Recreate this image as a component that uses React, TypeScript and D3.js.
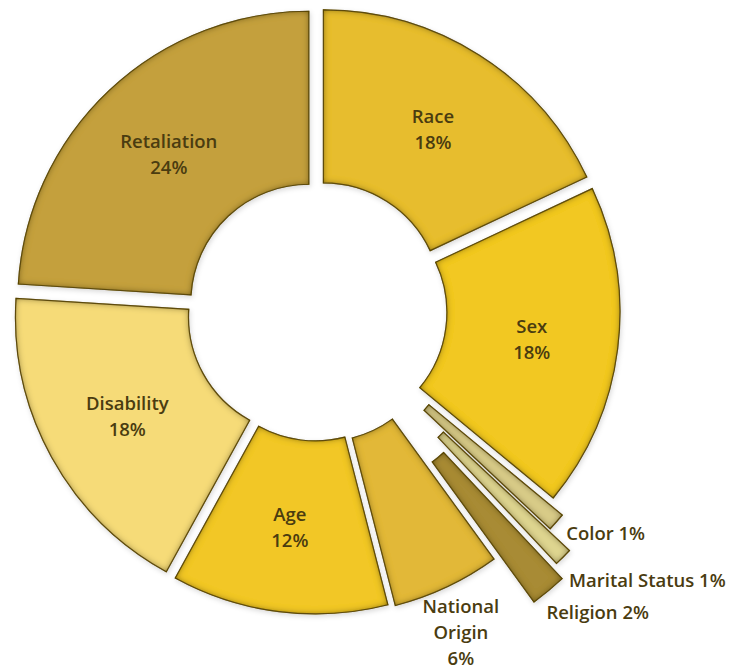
import React from "react";
import * as d3 from "d3";

const categories = ["Race", "Sex", "Color", "Marital Status", "Religion", "National Origin", "Age", "Disability", "Retaliation"];
const values = [18, 18, 1, 1, 2, 6, 12, 18, 24];
const labelLines = [["Race", "18%"], ["Sex", "18%"], ["Color 1%"], ["Marital Status 1%"], ["Religion 2%"], ["National", "Origin", "6%"], ["Age", "12%"], ["Disability", "18%"], ["Retaliation", "24%"]];

// style
const fills = ["#E7BD2E", "#F2C822", "#D9CC88", "#DFD690", "#A88B35", "#E2B838", "#F2C727", "#F6DB78", "#C4A03C"];
const explode = [12, 12, 28, 57, 72, 14, 12, 12, 12];
const outsideLabel = [false, false, true, true, true, true, false, false, false];
// offsets relative to slice outer end for outside labels: [dx, dy, anchor]
const outsideOffset: Record<number, [number, number, string]> = {
  2: [10, 10, "start"],
  3: [6, 22, "start"],
  4: [-2, 20, "start"],
  5: [14, 18, "middle"],
};

const W = 749, H = 668;
const cx = 317, cy = 311;
const rIn = 118, rOut = 291;

export default function App() {
  const pie = d3.pie<number>().sort(null).value((d) => d)(values);
  const arc = d3.arc<d3.PieArcDatum<number>>().innerRadius(rIn).outerRadius(rOut);
  const font = "'Open Sans', Lato, sans-serif";
  const textColor = "#4A3C10";
  const fs = 18.5;
  return (
    <svg width={W} height={H} style={{ position: "absolute", left: 0, top: 0, background: "#fff" }}>
      <defs>
        <filter id="bevel" x="-10%" y="-10%" width="120%" height="120%">
          <feComponentTransfer in="SourceAlpha" result="inv">
            <feFuncA type="table" tableValues="1 0" />
          </feComponentTransfer>
          <feGaussianBlur in="inv" stdDeviation="3.5" result="blur" />
          <feFlood floodColor="#4a3a05" floodOpacity="1" result="col" />
          <feComposite in="col" in2="blur" operator="in" result="sh" />
          <feComposite in="sh" in2="SourceAlpha" operator="in" result="inner" />
          <feMerge>
            <feMergeNode in="SourceGraphic" />
            <feMergeNode in="inner" />
          </feMerge>
        </filter>
        <filter id="drop" x="-10%" y="-10%" width="120%" height="120%">
          <feGaussianBlur in="SourceAlpha" stdDeviation="2.5" />
          <feOffset dx="1" dy="2" result="ob" />
          <feFlood floodColor="#000" floodOpacity="0.15" />
          <feComposite in2="ob" operator="in" />
          <feMerge>
            <feMergeNode />
            <feMergeNode in="SourceGraphic" />
          </feMerge>
        </filter>
      </defs>
      <g transform={`translate(${cx},${cy})`}>
        {pie.map((p, i) => {
          const mid = (p.startAngle + p.endAngle) / 2;
          const dx = Math.sin(mid) * explode[i];
          const dy = -Math.cos(mid) * explode[i];
          return (
            <g key={categories[i]} transform={`translate(${dx},${dy})`} filter="url(#drop)">
              <g filter="url(#bevel)">
                <path d={arc(p) || ""} fill={fills[i]} stroke="#6a5514" strokeWidth={1.2} />
              </g>
            </g>
          );
        })}
        {pie.map((p, i) => {
          const mid = (p.startAngle + p.endAngle) / 2;
          const lines = labelLines[i];
          const lh = 26;
          if (!outsideLabel[i]) {
            const r = (rIn + rOut) / 2 + explode[i];
            const x = Math.sin(mid) * r;
            const y = -Math.cos(mid) * r;
            return (
              <text key={"l" + i} x={x} y={y - ((lines.length - 1) * lh) / 2} textAnchor="middle" dominantBaseline="central" fontFamily={font} fontWeight={600} fontSize={fs} fill={textColor}>
                {lines.map((t, k) => (
                  <tspan key={k} x={x} dy={k === 0 ? 0 : lh}>{t}</tspan>
                ))}
              </text>
            );
          }
          const r = rOut + explode[i];
          const [ox, oy, anchor] = outsideOffset[i];
          const x = Math.sin(mid) * r + ox;
          const y = -Math.cos(mid) * r + oy;
          return (
            <text key={"l" + i} x={x} y={y} textAnchor={anchor} dominantBaseline="central" fontFamily={font} fontWeight={600} fontSize={fs} fill={textColor}>
              {lines.map((t, k) => (
                <tspan key={k} x={x} dy={k === 0 ? 0 : lh}>{t}</tspan>
              ))}
            </text>
          );
        })}
      </g>
    </svg>
  );
}
